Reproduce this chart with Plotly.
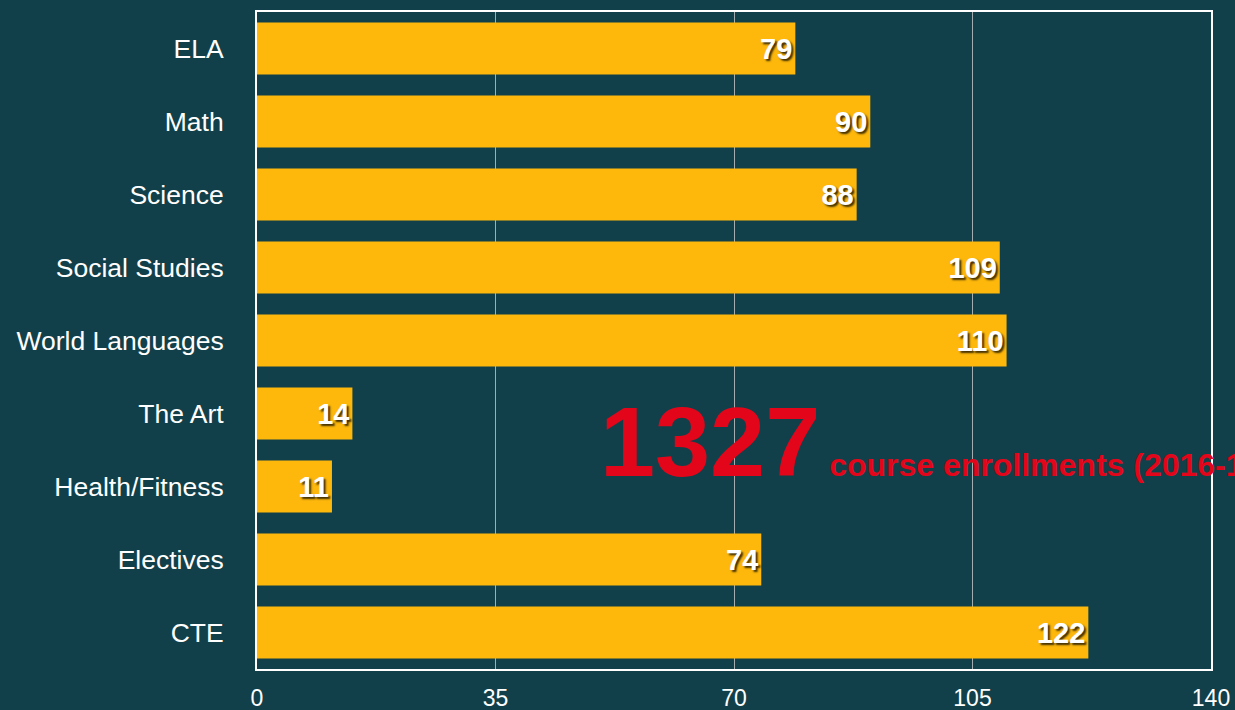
import plotly.graph_objects as go

categories = ["ELA", "Math", "Science", "Social Studies", "World Languages",
              "The Art", "Health/Fitness", "Electives", "CTE"]
values = [79, 90, 88, 109, 110, 14, 11, 74, 122]
x_ticks = [0, 35, 70, 105, 140]
total_label = "1327"
total_caption = "course enrollments (2016-17)"

BG = "#12404a"
BAR = "#FDB80B"

fig = go.Figure(go.Bar(
    x=values, y=categories, orientation="h",
    marker=dict(color=BAR, line=dict(width=0)),
    text=[str(v) for v in values], textposition="inside", insidetextanchor="end",
    textangle=0,
    textfont=dict(family="Liberation Sans, Arial", size=29, color="white", weight="bold",
                  shadow="2px 2px 2px rgba(0,0,0,0.75)"),
    cliponaxis=False,
))

fig.update_layout(
    width=1235, height=710,
    paper_bgcolor=BG, plot_bgcolor=BG,
    margin=dict(l=257, r=24, t=12, b=41, autoexpand=False),
    bargap=0.29,
    showlegend=False,
    xaxis=dict(range=[0, 140], tickvals=x_ticks, ticktext=[str(t) for t in x_ticks],
               showgrid=True, gridcolor="rgba(200,200,200,0.8)", gridwidth=1,
               showline=True, linecolor="white", linewidth=2, mirror=True, automargin=False,
               zeroline=False, ticks="", ticklabelstandoff=7,
               tickfont=dict(family="Liberation Sans, Arial", size=23, color="white")),
    yaxis=dict(categoryorder="array", categoryarray=categories[::-1], automargin=False,
               showgrid=False, showline=True, linecolor="white", linewidth=2, mirror=True,
               ticks="", ticklabelstandoff=26, zeroline=False,
               tickfont=dict(family="Liberation Sans, Arial", size=26.5, color="white")),
    font=dict(family="Liberation Sans, Arial", color="white"),
)

fig.add_annotation(
    xref="paper", yref="paper", x=(598-257)/954, y=(669-499)/657, xanchor="left", yanchor="bottom",
    showarrow=False, align="left",
    text=(f"<span style='font-size:99px'><b>{total_label}</b></span>"
          f"<span style='font-size:32px'><b> {total_caption}</b></span>"),
    font=dict(family="Liberation Sans, Arial", color="#E3061A"),
)

fig.write_html("out.html", config={"displayModeBar": False},
               post_script="document.body.style.margin='0';document.body.style.overflow='hidden';")
